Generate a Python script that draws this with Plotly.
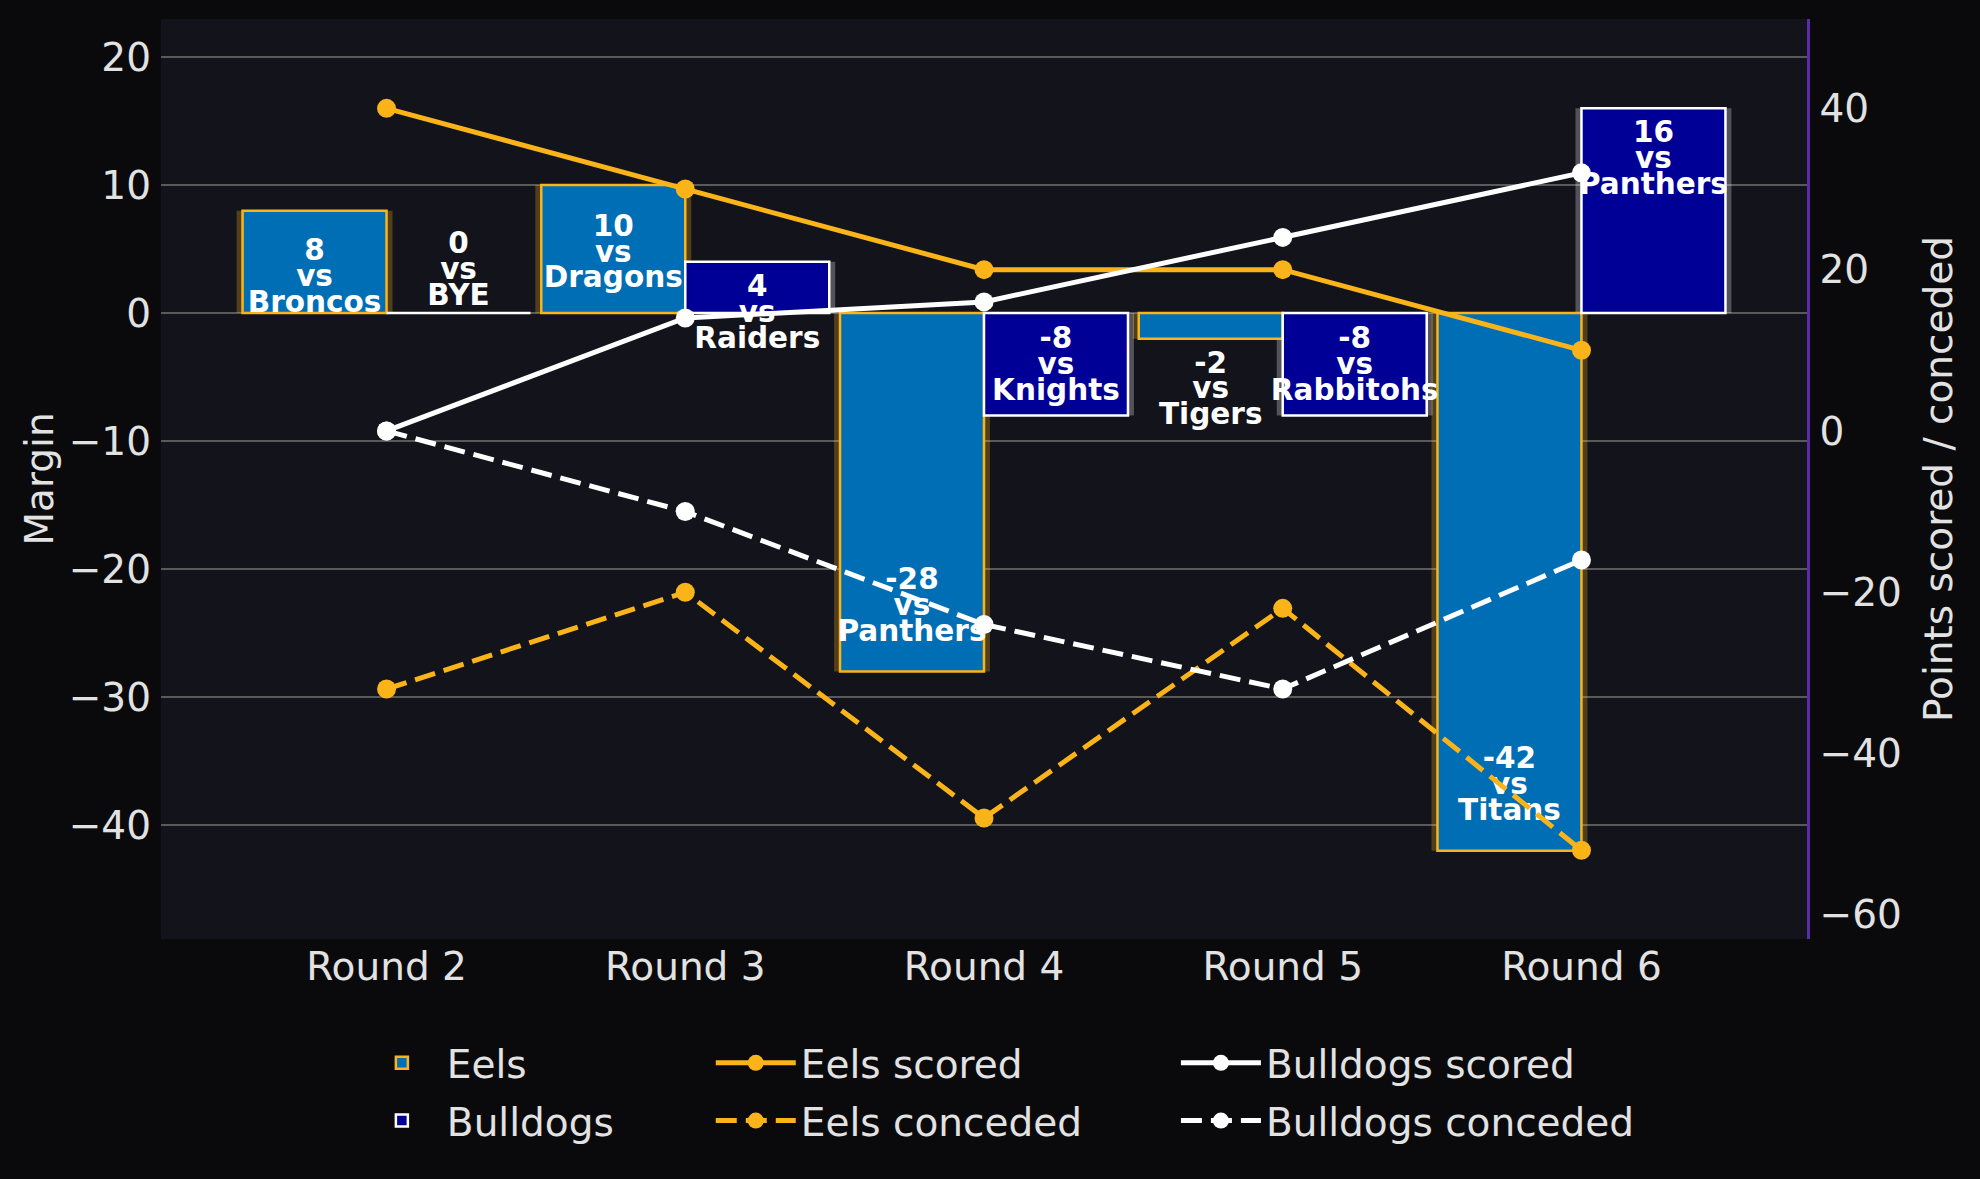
import plotly.graph_objects as go

# ---------------- data ----------------
rounds = ["Round 2", "Round 3", "Round 4", "Round 5", "Round 6"]
eels_margin = [8, 10, -28, -2, -42]
bulldogs_margin = [0, 4, -8, -8, 16]
eels_opponents = ["Broncos", "Dragons", "Panthers", "Tigers", "Titans"]
bulldogs_opponents = ["BYE", "Raiders", "Knights", "Rabbitohs", "Panthers"]
eels_scored = [40, 30, 20, 20, 10]
eels_conceded = [-32, -20, -48, -22, -52]
bulldogs_scored = [0, 14, 16, 24, 32]
bulldogs_conceded = [0, -10, -24, -32, -16]

# label anchor heights (margin axis units) for the "vs" line of each bar label
eels_label_y = [2.7, 4.6, -23.0, -6.1, -37.0]
bulldogs_label_y = [3.25, -0.15, -4.2, -4.2, 11.9]

# ---------------- style ----------------
EELS_BLUE = "#006EB5"
EELS_GOLD = "#FAB41A"
DOGS_NAVY = "#000096"
WHITE = "#FFFFFF"
FIG_BG = "#0A0A0D"
PLOT_BG = "#12131B"
TEXT = "#E2E2E2"
GRID = "#5A5A5A"
SPINE = "#5B2CA8"
FONT = "DejaVu Sans"
FS = 39

BAR_W = 0.482
SHADOW = 0.02
LINE_STEP = 2.02  # vertical spacing of label lines, in margin units

x = list(range(len(rounds)))
xe = [xi - BAR_W / 2 for xi in x]
xb = [xi + BAR_W / 2 for xi in x]

fig = go.Figure()

# soft shadows behind bars
fig.add_trace(go.Bar(x=x, y=eels_margin, width=BAR_W + 2 * SHADOW, offset=-BAR_W - SHADOW,
                     marker=dict(color="rgba(250,180,26,0.27)", line=dict(width=0)),
                     showlegend=False, hoverinfo="skip"))
fig.add_trace(go.Bar(x=x, y=bulldogs_margin, width=BAR_W + 2 * SHADOW, offset=-SHADOW,
                     marker=dict(color="rgba(255,255,255,0.27)", line=dict(width=0)),
                     showlegend=False, hoverinfo="skip"))

# bars
fig.add_trace(go.Bar(x=x, y=eels_margin, width=BAR_W, offset=-BAR_W, name="Eels",
                     marker=dict(color=EELS_BLUE, line=dict(color=EELS_GOLD, width=2.5)),
                     legend="legend", legendgroup="e", legendrank=1))
fig.add_trace(go.Bar(x=x, y=bulldogs_margin, width=BAR_W, offset=0, name="Bulldogs",
                     marker=dict(color=DOGS_NAVY, line=dict(color=WHITE, width=2.5)),
                     legend="legend", legendgroup="b", legendrank=2))

# bar labels (three lines each)
lab_x = xe + xb
lab_y = eels_label_y + bulldogs_label_y
top_txt = [str(v) for v in eels_margin + bulldogs_margin]
bot_txt = eels_opponents + bulldogs_opponents
lab_font = dict(family=FONT, size=29.5, color=WHITE, weight="bold")
for txt, dy in ((top_txt, LINE_STEP), (["vs"] * len(lab_x), 0.0), (bot_txt, -LINE_STEP)):
    fig.add_trace(go.Scatter(x=lab_x, y=[v + dy for v in lab_y], mode="text", text=txt,
                             textposition="middle center", textfont=lab_font,
                             showlegend=False, hoverinfo="skip"))

# points scored / conceded lines on the secondary axis
DASH = "21px,9px"
line_specs = [
    ("Eels scored", eels_scored, EELS_GOLD, "solid", "legend2", "es", 1),
    ("Eels conceded", eels_conceded, EELS_GOLD, DASH, "legend2", "ec", 2),
    ("Bulldogs scored", bulldogs_scored, WHITE, "solid", "legend3", "bs", 1),
    ("Bulldogs conceded", bulldogs_conceded, WHITE, DASH, "legend3", "bc", 2),
]
for name, vals, col, dash, leg, grp, rank in line_specs:
    fig.add_trace(go.Scatter(x=x, y=vals, yaxis="y2", name=name, mode="lines+markers",
                             line=dict(color=col, width=5, dash=dash),
                             marker=dict(color=col, size=19, symbol="circle"),
                             legend=leg, legendgroup=grp, legendrank=rank))

leg_common = dict(orientation="v", xanchor="left", yanchor="top", y=-0.1,
                  bgcolor="rgba(0,0,0,0)", borderwidth=0, tracegroupgap=4,
                  font=dict(family=FONT, size=FS, color=TEXT), itemwidth=80)

fig.update_layout(
    width=1980, height=1179,
    paper_bgcolor=FIG_BG, plot_bgcolor=PLOT_BG,
    margin=dict(l=161, r=173, t=19, b=240, autoexpand=False),
    barmode="overlay",
    font=dict(family=FONT, color=TEXT, size=FS),
    xaxis=dict(range=[-0.755, 4.755], tickmode="array", tickvals=x, ticktext=rounds,
               showgrid=False, zeroline=False, showline=False,
               ticks="", ticklabelstandoff=1,
               tickfont=dict(family=FONT, size=FS, color=TEXT)),
    yaxis=dict(range=[-48.9, 22.97], tickmode="linear", tick0=0, dtick=10,
               showgrid=True, gridcolor=GRID, gridwidth=1.5, zeroline=False, showline=False,
               ticks="", ticklabelstandoff=9,
               tickfont=dict(family=FONT, size=FS, color=TEXT),
               title=dict(text="Margin", font=dict(family=FONT, size=FS, color=TEXT), standoff=3)),
    yaxis2=dict(range=[-63.0, 51.08], overlaying="y", side="right", tickmode="linear",
                tick0=0, dtick=20, showgrid=False, zeroline=False,
                showline=True, linecolor=SPINE, linewidth=2.5,
                ticks="", ticklabelstandoff=2,
                tickfont=dict(family=FONT, size=FS, color=TEXT),
                title=dict(text="Points scored / conceded", font=dict(family=FONT, size=FS, color=TEXT),
                           standoff=24)),
    legend=dict(leg_common, x=0.119),
    legend2=dict(leg_common, x=0.334),
    legend3=dict(leg_common, x=0.6166),
    showlegend=True,
)

fig.write_html("out.html", config={"displayModeBar": False},
               post_script="document.body.style.margin='0';"
                           "document.body.style.background='%s';" % FIG_BG)
